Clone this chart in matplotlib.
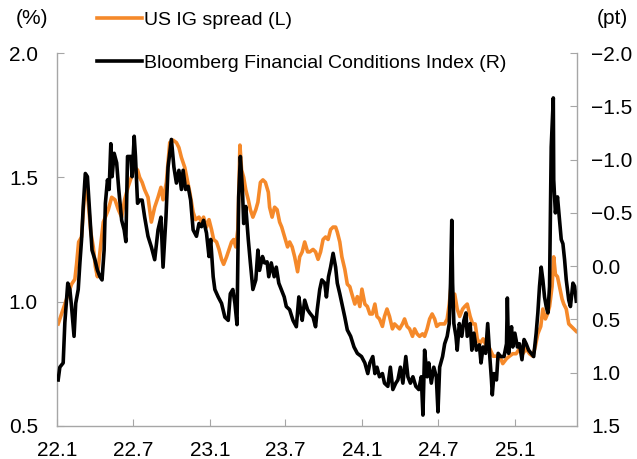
import matplotlib
matplotlib.use("Agg")
import matplotlib.pyplot as plt
import pandas as pd

plt.rcParams['font.family'] = ['Liberation Sans', 'DejaVu Sans']
plt.rcParams['font.size'] = 15

# US IG spread (%, left axis)
ig_dates = [
    '2022-01-03', '2022-01-11', '2022-01-19', '2022-01-27', '2022-02-04', '2022-02-12', '2022-02-16', '2022-02-21',
    '2022-02-28', '2022-03-06', '2022-03-12', '2022-03-16', '2022-03-22', '2022-03-28', '2022-04-02', '2022-04-07',
    '2022-04-13', '2022-04-21', '2022-04-26', '2022-05-03', '2022-05-11', '2022-05-19', '2022-05-27', '2022-06-04',
    '2022-06-11', '2022-06-19', '2022-06-27', '2022-07-05', '2022-07-12', '2022-07-17', '2022-07-23', '2022-07-29',
    '2022-08-06', '2022-08-14', '2022-08-22', '2022-08-30', '2022-09-06', '2022-09-11', '2022-09-19', '2022-09-27',
    '2022-10-05', '2022-10-13', '2022-10-19', '2022-10-25', '2022-11-02', '2022-11-08', '2022-11-14', '2022-11-22',
    '2022-11-28', '2022-12-06', '2022-12-12', '2022-12-17', '2022-12-24', '2022-12-30', '2023-01-05', '2023-01-10',
    '2023-01-17', '2023-01-23', '2023-01-29', '2023-02-03', '2023-02-10', '2023-02-16', '2023-02-22', '2023-02-27',
    '2023-03-04', '2023-03-09', '2023-03-12', '2023-03-14', '2023-03-18', '2023-03-23', '2023-03-28', '2023-04-03',
    '2023-04-08', '2023-04-14', '2023-04-21', '2023-04-26', '2023-05-02', '2023-05-08', '2023-05-14', '2023-05-21',
    '2023-05-24', '2023-05-30', '2023-06-05', '2023-06-11', '2023-06-17', '2023-06-22', '2023-06-29', '2023-07-06',
    '2023-07-11', '2023-07-17', '2023-07-23', '2023-07-30', '2023-08-04', '2023-08-10', '2023-08-16', '2023-08-23',
    '2023-08-28', '2023-09-05', '2023-09-11', '2023-09-17', '2023-09-23', '2023-09-29', '2023-10-05', '2023-10-11',
    '2023-10-17', '2023-10-23', '2023-10-29', '2023-11-02', '2023-11-08', '2023-11-13', '2023-11-20', '2023-11-26',
    '2023-12-02', '2023-12-07', '2023-12-14', '2023-12-20', '2023-12-26', '2023-12-31', '2024-01-07', '2024-01-13',
    '2024-01-19', '2024-01-25', '2024-01-31', '2024-02-05', '2024-02-11', '2024-02-18', '2024-02-23', '2024-02-29',
    '2024-03-06', '2024-03-13', '2024-03-18', '2024-03-24', '2024-03-30', '2024-04-06', '2024-04-11', '2024-04-17',
    '2024-04-23', '2024-04-30', '2024-05-05', '2024-05-11', '2024-05-17', '2024-05-24', '2024-05-29', '2024-06-04',
    '2024-06-10', '2024-06-16', '2024-06-22', '2024-06-27', '2024-07-04', '2024-07-11', '2024-07-16', '2024-07-22',
    '2024-07-27', '2024-07-31', '2024-08-04', '2024-08-09', '2024-08-15', '2024-08-21', '2024-08-28', '2024-09-02',
    '2024-09-08', '2024-09-15', '2024-09-21', '2024-09-27', '2024-10-02', '2024-10-08', '2024-10-16', '2024-10-24',
    '2024-11-01', '2024-11-09', '2024-11-17', '2024-11-25', '2024-12-02', '2024-12-11', '2024-12-18', '2024-12-26',
    '2025-01-03', '2025-01-11', '2025-01-19', '2025-01-27', '2025-02-04', '2025-02-12', '2025-02-18', '2025-02-24',
    '2025-03-03', '2025-03-08', '2025-03-14', '2025-03-19', '2025-03-24', '2025-03-30', '2025-04-03', '2025-04-07',
    '2025-04-12', '2025-04-17', '2025-04-23', '2025-04-27', '2025-05-03', '2025-05-09', '2025-05-15', '2025-05-21',
    '2025-05-27',
]
ig_spread = [
    0.91, 0.95, 0.99, 1.03, 1.07, 1.09, 1.15, 1.24, 1.26, 1.41, 1.45, 1.40, 1.28, 1.22, 1.14, 1.10,
    1.20, 1.32, 1.34, 1.37, 1.42, 1.41, 1.37, 1.34, 1.41, 1.46, 1.50, 1.54, 1.53, 1.50, 1.48, 1.45,
    1.42, 1.32, 1.38, 1.42, 1.46, 1.41, 1.48, 1.64, 1.65, 1.64, 1.62, 1.58, 1.54, 1.49, 1.44, 1.36,
    1.33, 1.34, 1.32, 1.34, 1.30, 1.33, 1.29, 1.25, 1.24, 1.21, 1.17, 1.15, 1.18, 1.21, 1.24, 1.25,
    1.22, 1.29, 1.50, 1.63, 1.53, 1.50, 1.45, 1.41, 1.37, 1.34, 1.37, 1.40, 1.48, 1.49, 1.48, 1.44,
    1.38, 1.34, 1.38, 1.37, 1.32, 1.30, 1.26, 1.22, 1.24, 1.22, 1.18, 1.12, 1.18, 1.20, 1.24, 1.20,
    1.20, 1.21, 1.20, 1.17, 1.20, 1.25, 1.26, 1.25, 1.29, 1.30, 1.30, 1.28, 1.24, 1.18, 1.13, 1.07,
    1.06, 1.03, 0.99, 1.02, 0.98, 1.05, 0.99, 0.98, 0.95, 0.95, 0.99, 0.94, 0.93, 0.90, 0.94, 0.97,
    0.94, 0.89, 0.91, 0.90, 0.89, 0.91, 0.93, 0.90, 0.89, 0.86, 0.89, 0.87, 0.86, 0.87, 0.86, 0.89,
    0.93, 0.95, 0.93, 0.90, 0.91, 0.91, 0.91, 0.93, 0.99, 1.06, 0.99, 1.03, 0.97, 0.94, 0.97, 0.98,
    0.99, 0.94, 0.91, 0.91, 0.85, 0.83, 0.85, 0.82, 0.81, 0.78, 0.78, 0.78, 0.75, 0.77, 0.78, 0.79,
    0.79, 0.81, 0.79, 0.81, 0.79, 0.78, 0.82, 0.87, 0.90, 0.97, 0.93, 0.95, 0.98, 1.06, 1.18, 1.11,
    1.10, 1.06, 1.01, 0.99, 0.97, 0.91, 0.90, 0.89, 0.88,
]

# Bloomberg Financial Conditions Index (pt, right axis, inverted)
fci_dates = [
    '2022-01-03', '2022-01-07', '2022-01-15', '2022-01-19', '2022-01-26', '2022-01-31', '2022-02-04', '2022-02-10',
    '2022-02-14', '2022-02-20', '2022-02-24', '2022-02-28', '2022-03-04', '2022-03-09', '2022-03-14', '2022-03-20',
    '2022-03-25', '2022-04-01', '2022-04-07', '2022-04-13', '2022-04-18', '2022-04-23', '2022-04-26', '2022-05-01',
    '2022-05-05', '2022-05-09', '2022-05-12', '2022-05-17', '2022-05-23', '2022-05-28', '2022-06-04', '2022-06-10',
    '2022-06-14', '2022-06-18', '2022-06-26', '2022-06-29', '2022-07-04', '2022-07-07', '2022-07-12', '2022-07-17',
    '2022-07-23', '2022-07-29', '2022-08-06', '2022-08-14', '2022-08-22', '2022-08-30', '2022-09-06', '2022-09-11',
    '2022-09-18', '2022-09-23', '2022-10-01', '2022-10-07', '2022-10-13', '2022-10-19', '2022-10-25', '2022-10-29',
    '2022-11-04', '2022-11-10', '2022-11-16', '2022-11-22', '2022-11-30', '2022-12-06', '2022-12-12', '2022-12-17',
    '2022-12-24', '2022-12-30', '2023-01-03', '2023-01-09', '2023-01-13', '2023-01-21', '2023-01-29', '2023-02-06',
    '2023-02-14', '2023-02-19', '2023-02-25', '2023-03-02', '2023-03-07', '2023-03-11', '2023-03-15', '2023-03-20',
    '2023-03-23', '2023-03-28', '2023-04-03', '2023-04-08', '2023-04-14', '2023-04-21', '2023-04-26', '2023-04-30',
    '2023-05-07', '2023-05-12', '2023-05-18', '2023-05-22', '2023-05-28', '2023-06-04', '2023-06-09', '2023-06-15',
    '2023-06-21', '2023-06-28', '2023-07-03', '2023-07-11', '2023-07-19', '2023-07-27', '2023-08-02', '2023-08-06',
    '2023-08-10', '2023-08-16', '2023-08-23', '2023-08-28', '2023-09-05', '2023-09-11', '2023-09-15', '2023-09-21',
    '2023-09-26', '2023-10-03', '2023-10-07', '2023-10-12', '2023-10-17', '2023-10-23', '2023-10-29', '2023-11-02',
    '2023-11-08', '2023-11-13', '2023-11-20', '2023-11-26', '2023-12-04', '2023-12-12', '2023-12-20', '2023-12-30',
    '2024-01-07', '2024-01-14', '2024-01-19', '2024-01-26', '2024-01-31', '2024-02-05', '2024-02-11', '2024-02-18',
    '2024-02-23', '2024-03-02', '2024-03-08', '2024-03-14', '2024-03-21', '2024-03-26', '2024-04-01', '2024-04-07',
    '2024-04-14', '2024-04-19', '2024-04-25', '2024-05-01', '2024-05-08', '2024-05-15', '2024-05-21', '2024-05-25',
    '2024-05-29', '2024-06-04', '2024-06-08', '2024-06-14', '2024-06-20', '2024-06-26', '2024-06-30', '2024-07-04',
    '2024-07-11', '2024-07-16', '2024-07-22', '2024-07-27', '2024-07-30', '2024-08-02', '2024-08-04', '2024-08-07',
    '2024-08-12', '2024-08-15', '2024-08-20', '2024-08-26', '2024-08-31', '2024-09-05', '2024-09-08', '2024-09-15',
    '2024-09-19', '2024-09-24', '2024-09-30', '2024-10-07', '2024-10-11', '2024-10-16', '2024-10-22', '2024-10-27',
    '2024-11-01', '2024-11-05', '2024-11-07', '2024-11-11', '2024-11-17', '2024-11-21', '2024-11-27', '2024-12-05',
    '2024-12-11', '2024-12-13', '2024-12-16', '2024-12-23', '2024-12-26', '2024-12-31', '2025-01-06', '2025-01-11',
    '2025-01-17', '2025-01-22', '2025-01-27', '2025-02-02', '2025-02-08', '2025-02-14', '2025-02-20', '2025-02-24',
    '2025-02-28', '2025-03-04', '2025-03-08', '2025-03-12', '2025-03-16', '2025-03-20', '2025-03-24', '2025-03-28',
    '2025-04-02', '2025-04-03', '2025-04-07', '2025-04-12', '2025-04-17', '2025-04-21', '2025-04-25', '2025-04-29',
    '2025-05-03', '2025-05-09', '2025-05-13', '2025-05-19', '2025-05-23', '2025-05-27',
]
fci_index = [
    1.07, 0.95, 0.91, 0.53, 0.16, 0.22, 0.38, 0.66, 0.35, 0.22, -0.03, -0.25, -0.56, -0.87, -0.84, -0.46,
    -0.15, -0.06, 0.04, 0.10, 0.13, -0.15, -0.59, -0.81, -0.72, -1.15, -0.84, -1.06, -0.97, -0.72, -0.43, -0.34,
    -0.23, -1.03, -1.03, -0.84, -1.22, -1.03, -0.59, -0.62, -0.62, -0.46, -0.28, -0.18, -0.06, -0.34, -0.46, 0.01,
    -0.46, -0.93, -1.19, -0.93, -0.78, -0.90, -0.72, -0.90, -0.72, -0.75, -0.62, -0.34, -0.28, -0.40, -0.37, -0.43,
    -0.31, -0.09, -0.25, 0.10, 0.22, 0.29, 0.35, 0.48, 0.51, 0.26, 0.22, 0.35, 0.55, -0.65, -1.03, -0.72,
    -0.40, -0.56, -0.25, -0.03, 0.22, 0.13, -0.15, 0.04, -0.09, -0.03, -0.04, 0.10, -0.03, 0.10, 0.01, 0.16,
    0.22, 0.29, 0.38, 0.41, 0.51, 0.57, 0.29, 0.41, 0.51, 0.32, 0.41, 0.44, 0.48, 0.57, 0.41, 0.22,
    0.13, 0.16, 0.29, 0.10, 0.01, -0.12, 0.01, 0.16, 0.26, 0.35, 0.48, 0.60, 0.66, 0.76, 0.82, 0.85,
    0.91, 1.01, 0.91, 0.85, 1.01, 0.95, 1.04, 1.01, 1.10, 1.13, 0.95, 1.16, 1.10, 1.07, 0.95, 1.10,
    0.85, 1.04, 1.10, 1.04, 1.13, 1.16, 1.04, 1.40, 0.79, 1.04, 0.91, 1.10, 0.95, 1.04, 1.37, 0.95,
    0.85, 0.73, 0.66, 0.54, 0.16, -0.43, 0.16, 0.54, 0.66, 0.79, 0.54, 0.66, 0.51, 0.44, 0.66, 0.54,
    0.79, 0.63, 0.79, 0.74, 0.91, 0.76, 0.82, 0.54, 0.85, 1.07, 1.21, 1.01, 1.07, 0.82, 0.85, 0.85,
    0.73, 0.30, 0.82, 0.57, 0.76, 0.63, 0.76, 0.73, 0.88, 0.69, 0.73, 0.79, 0.82, 0.85, 0.63, 0.44,
    0.19, 0.01, 0.13, 0.29, 0.38, 0.44, 0.19, -1.12, -1.58, -0.81, -0.50, -0.65, -0.43, -0.25, -0.21, -0.06,
    0.13, 0.32, 0.38, 0.16, 0.19, 0.33,
]

tick_dates = ['2022-01-01', '2022-07-01', '2023-01-01', '2023-07-01', '2024-01-01', '2024-07-01', '2025-01-01']
tick_labels = ['22.1', '22.7', '23.1', '23.7', '24.1', '24.7', '25.1']
left_ticks = [0.5, 1.0, 1.5, 2.0]
right_ticks = [-2.0, -1.5, -1.0, -0.5, 0.0, 0.5, 1.0, 1.5]

grey = '#A6A6A6'
orange = '#F5892A'

fig = plt.figure(figsize=(6.37, 4.59), dpi=100)
ax = fig.add_axes([0.090, 0.0725, 0.816, 0.8115])
ax2 = ax.twinx()

ax.plot(pd.to_datetime(ig_dates), ig_spread, color=orange, lw=2.6, label='US IG spread (L)')
ax2.plot(pd.to_datetime(fci_dates), fci_index, color='black', lw=2.6,
         label='Bloomberg Financial Conditions Index (R)')

ax.set_xlim(pd.Timestamp('2022-01-01'), pd.Timestamp('2025-05-29'))
ax.set_ylim(0.5, 2.0)
ax2.set_ylim(1.5, -2.0)

ax.set_xticks(pd.to_datetime(tick_dates))
ax.set_xticklabels(tick_labels)
ax.set_yticks(left_ticks)
ax.set_yticklabels(['%.1f' % v for v in left_ticks])
ax2.set_yticks(right_ticks)
ax2.set_yticklabels([('%.1f' % v).replace('-', '\u2212') for v in right_ticks])

for a in (ax, ax2):
    a.spines['top'].set_visible(False)
    for s in a.spines.values():
        s.set_color(grey)
        s.set_linewidth(1.0)
ax.spines['right'].set_visible(False)
ax2.spines['left'].set_visible(False)
ax2.spines['bottom'].set_visible(False)

ax.tick_params(axis='x', direction='in', length=5, color=grey, pad=11)
ax.tick_params(axis='y', direction='in', length=5, color=grey, pad=14)
ax2.tick_params(axis='y', direction='in', length=5, color=grey, pad=10)

h1, l1 = ax.get_legend_handles_labels()
h2, l2 = ax2.get_legend_handles_labels()
fig.legend(h1 + h2, l1 + l2, loc='upper left', bbox_to_anchor=(0.152, 0.976),
           frameon=False, borderpad=0, borderaxespad=0, handlelength=2.3, fontsize=14,
           handletextpad=0.15, labelspacing=1.3)

fig.text(32 / 637, 1 - 19 / 459, '(%)', ha='center', va='center')
fig.text(612 / 637, 1 - 19 / 459, '(pt)', ha='center', va='center')

fig.savefig('out.png', dpi=100)
